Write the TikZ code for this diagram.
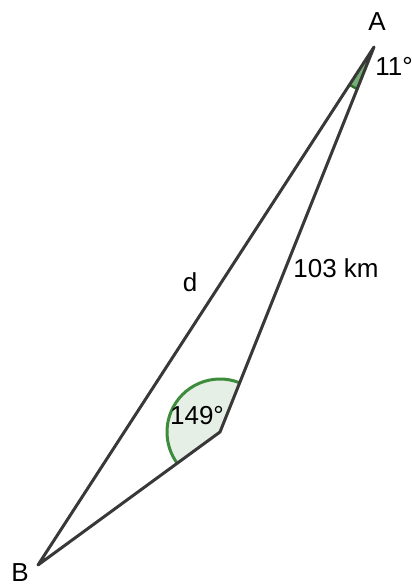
\documentclass[tikz,border=0pt]{standalone}
\usepackage{fontspec}
\setmainfont{Liberation Sans}
\usetikzlibrary{angles}
\definecolor{edgegray}{HTML}{383838}
\definecolor{anglegreen}{HTML}{3C8C3C}
\definecolor{anglefill}{HTML}{E6EFE6}
\tikzset{
  edge/.style={draw=edgegray, line width=3pt, line cap=round, line join=round},
  anglemark/.style={draw=anglegreen, line width=3pt, fill=anglefill},
  lbl/.style={font=\fontsize{26}{30}\selectfont, text=black, inner sep=0pt}
}
\begin{document}
\begin{tikzpicture}[x=1pt,y=-1pt]
\useasboundingbox (0,0) rectangle (412,586);
\coordinate (A) at (374,47);
\coordinate (B) at (38,565);
\coordinate (C) at (220,432);
\pic[anglemark, angle radius=53pt] {angle = A--C--B};
\pic[draw=anglegreen!80!black, line width=2.5pt, fill=anglegreen!70, angle radius=45pt] {angle = B--A--C};
\draw[edge] (A) -- (B) -- (C) -- cycle;
\node[lbl] (la) at (377,22) {A};
\node[lbl, anchor=base] (lb) at (20,581) {B};
\node[lbl] (l11) at (394,66) {11°};
\node[lbl] (l149) at (197,416) {149°};
\node[lbl] (ld) at (190,282) {d};
\node[lbl] (lkm) at (336,268) {103 km};
\end{tikzpicture}
\end{document}
